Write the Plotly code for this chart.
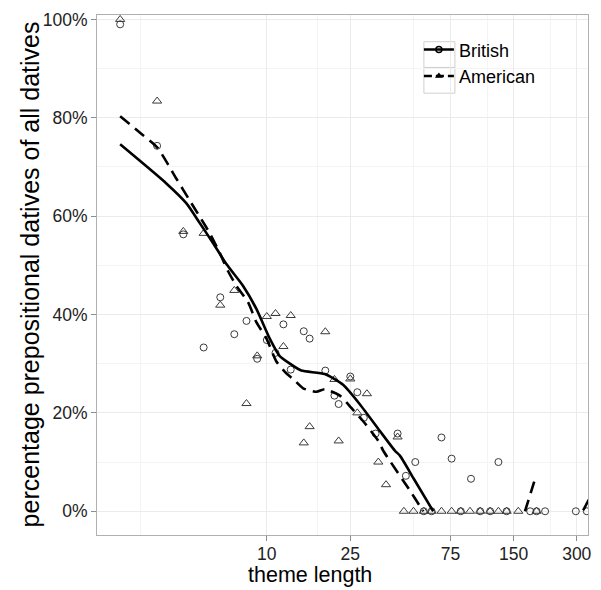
import plotly.graph_objects as go

# ---- data (theme length, percentage) ----
brit_x = [2, 3, 4, 5, 6, 7, 8, 9, 10, 11, 12, 13, 15, 16, 19, 21, 22, 25, 27, 29, 33, 42, 46, 51, 68, 76, 94, 127,
          56, 61, 84, 104, 116, 139, 180, 193, 212, 297, 335]
brit_y = [99, 74.3, 56.3, 33.3, 43.5, 36.0, 38.7, 31.0, 34.8, 32.2, 38.0, 28.8, 36.6, 35.1, 28.6, 23.5, 21.8, 27.4, 24.2, 19.0, 15.8, 15.8, 7.2, 10.0, 15.0, 10.7, 6.6, 10.0,
          0, 0, 0, 0, 0, 0, 0, 0, 0, 0, 0]

amer_x = [2, 3, 4, 5, 6, 7, 8, 9, 10, 11, 12, 13, 15, 16, 19, 21, 22, 25, 27, 30, 34, 37, 42,
          45, 50, 56, 61, 68, 76, 84, 93, 104, 116, 127, 139, 158, 193]
amer_y = [100, 83.4, 56.9, 56.5, 41.9, 44.9, 21.9, 31.6, 39.6, 40.2, 33.5, 39.8, 13.9, 17.2, 36.5, 26.8, 14.3, 26.9, 20.0, 23.9, 10.0, 5.4, 15.1,
          0, 0, 0, 0, 0, 0, 0, 0, 0, 0, 0, 0, 0, 0]

# smoothed curves
brit_fit_x = [2.0, 3.33, 4.14, 4.79, 5.55, 6.43, 7.71, 8.93, 10.33, 11.5, 12.9, 14.6, 18.9, 23.1, 27.8, 34.6, 40.8, 43.1, 50, 62.1]
brit_fit_y = [74.6, 66.6, 62.6, 58.6, 54.5, 50.2, 45.8, 41.1, 35.1, 31.6, 30.0, 28.6, 27.9, 25.7, 21.7, 16.3, 12.3, 11.3, 6.7, 0]

amer_fit_x = [2.0, 2.48, 3.0, 3.71, 4.29, 4.79, 5.35, 5.97, 6.54, 7.17, 8.14, 8.93, 9.97, 11.13, 12.42, 13.35, 14.9, 17.25, 18.9, 22.3, 25.3, 28.8, 34.0, 35.9, 48.1, 54.7, 55.8,
              None, 170, 190, None, 322, 345]
amer_fit_y = [80.3, 77.0, 74.0, 67.6, 63.2, 59.9, 56.5, 52.5, 48.8, 45.8, 42.5, 38.4, 35.1, 30.4, 28.0, 26.9, 25.0, 24.3, 24.8, 23.5, 21.0, 18.3, 14.3, 12.3, 4.2, 0.5, 0,
              None, 0, 6.6, None, 0.2, 2.6]

x_ticks = [10, 25, 75, 150, 300]
x_minor = [2.5, 17.5, 50, 112.5, 225]
y_ticks = [0, 20, 40, 60, 80, 100]
y_tick_labels = ["0%", "20%", "40%", "60%", "80%", "100%"]
y_minor = [10, 30, 50, 70, 90]

pt_color = "#3a3a3a"
fig = go.Figure()

fig.add_trace(go.Scatter(x=brit_x, y=brit_y, mode="markers", showlegend=False,
                         marker=dict(symbol="circle-open", size=7, color=pt_color, line=dict(width=1, color=pt_color))))
fig.add_trace(go.Scatter(x=amer_x, y=amer_y, mode="markers", showlegend=False,
                         marker=dict(symbol="triangle-up-open", size=8, color=pt_color, line=dict(width=1, color=pt_color))))
fig.add_trace(go.Scatter(x=brit_fit_x, y=brit_fit_y, mode="lines", showlegend=False,
                         line=dict(color="black", width=2.6, shape="spline", smoothing=0.6)))
fig.add_trace(go.Scatter(x=amer_fit_x, y=amer_fit_y, mode="lines", showlegend=False, connectgaps=False,
                         line=dict(color="black", width=2.6, dash="12px,7px", shape="spline", smoothing=0.6)))

# legend entries
fig.add_trace(go.Scatter(x=[None], y=[None], mode="lines+markers", name="British",
                         line=dict(color="black", width=2.6),
                         marker=dict(symbol="circle-open", size=6, color="black", line=dict(width=1.5))))
fig.add_trace(go.Scatter(x=[None], y=[None], mode="lines+markers", name="American",
                         line=dict(color="black", width=2.6, dash="8px,4px"),
                         marker=dict(symbol="triangle-up", size=7, color="black")))

W, H = 601, 590
L, R, T, B = 97.3, 588, 9.5, 535
pw, ph = R - L, B - T


def px(xp):
    return (xp - L) / pw


def py(yp):
    return 1 - (yp - T) / ph


font_family = "Liberation Sans, Arial, sans-serif"

shapes = []
for top in (36.5, 62.5):
    shapes.append(dict(type="rect", xref="paper", yref="paper",
                       x0=px(424), x1=px(455), y0=py(top), y1=py(top + 26),
                       line=dict(color="#d0d0d0", width=1), fillcolor="rgba(0,0,0,0)", layer="below"))

fig.update_layout(
    width=W, height=H,
    margin=dict(l=L, r=W - R, t=T, b=H - B, pad=0),
    plot_bgcolor="white", paper_bgcolor="white",
    font=dict(family=font_family, color="#333333"),
    showlegend=True,
    legend=dict(x=px(419), y=py(26), xanchor="left", yanchor="top",
                font=dict(size=18, color="black", family=font_family),
                bgcolor="rgba(0,0,0,0)", borderwidth=0, tracegroupgap=0, itemwidth=30),
    shapes=shapes,
    xaxis=dict(type="log", range=[0.1907, 2.5308], tickvals=x_ticks, ticktext=[str(v) for v in x_ticks],
               showgrid=True, gridcolor="#ebebeb", gridwidth=1,
               minor=dict(tickvals=x_minor, showgrid=True, gridcolor="#f4f4f4", gridwidth=0.6, ticks=""),
               ticks="outside", ticklen=5, tickcolor="#8c8c8c", tickwidth=1, ticklabelstandoff=-2,
               tickfont=dict(size=17.5, color="#222222"),
               showline=True, linecolor="#b0b0b0", linewidth=1, mirror=True, zeroline=False),
    yaxis=dict(range=[-4.83, 100.9], tickvals=y_ticks, ticktext=y_tick_labels,
               showgrid=True, gridcolor="#ebebeb", gridwidth=1,
               minor=dict(tickvals=y_minor, showgrid=True, gridcolor="#f4f4f4", gridwidth=0.6, ticks=""),
               ticks="outside", ticklen=5, tickcolor="#8c8c8c", tickwidth=1,
               tickfont=dict(size=17.5, color="#222222"),
               showline=True, linecolor="#b0b0b0", linewidth=1, mirror=True, zeroline=False),
    annotations=[
        dict(text="theme length", x=px(310), y=py(590), xref="paper", yref="paper",
             showarrow=False, font=dict(size=21.5, color="black", family=font_family),
             xanchor="center", yanchor="bottom", yshift=0),
        dict(text="percentage prepositional datives of all datives", x=px(30), y=py(272),
             xref="paper", yref="paper", textangle=-90, showarrow=False,
             font=dict(size=25, color="black", family=font_family),
             xanchor="center", yanchor="middle"),
    ],
)

fig.write_html("out.html", config={"displayModeBar": False},
               post_script="document.body.style.margin='0px';")
